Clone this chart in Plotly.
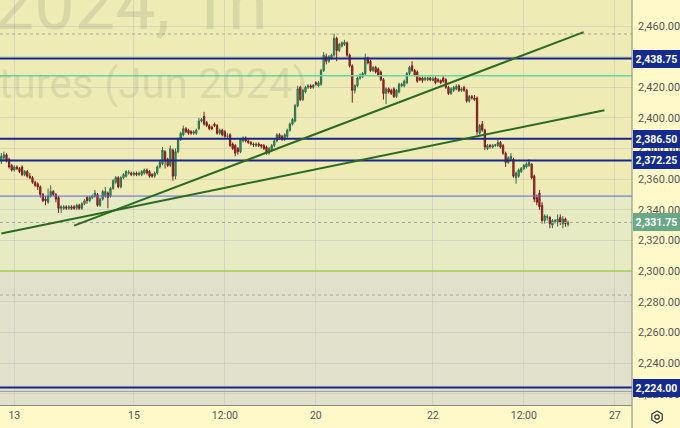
import math
import plotly.graph_objects as go

# ---------------- data (hourly bars, Gold Futures Jun 2024) ----------------
opens = [2372, 2374, 2376, 2373, 2369, 2366, 2368, 2367, 2368, 2363,
         2365, 2362, 2361, 2358, 2357, 2355, 2350, 2347, 2345, 2349,
         2352, 2350, 2348, 2341, 2341, 2342, 2341, 2342, 2342, 2341,
         2343, 2341, 2344, 2348, 2346, 2348, 2349, 2350, 2343, 2347,
         2349, 2351, 2349, 2354, 2358, 2361, 2355, 2361, 2362, 2364,
         2364, 2363, 2364, 2363, 2363, 2364, 2366, 2365, 2363, 2362,
         2364, 2368, 2370, 2378, 2373, 2369, 2379, 2362, 2378, 2386,
         2389, 2393, 2392, 2391, 2390, 2390, 2393, 2398, 2401, 2397,
         2395, 2394, 2396, 2395, 2390, 2392, 2391, 2388, 2389, 2383,
         2382, 2380, 2378, 2385, 2387, 2385, 2384, 2383, 2382, 2383,
         2382.5, 2382, 2381, 2377, 2379, 2382, 2385, 2389, 2388, 2386,
         2388, 2392, 2396, 2398, 2408, 2420, 2412, 2417, 2420, 2421,
         2420, 2423, 2421, 2422, 2431, 2440, 2437, 2439, 2441, 2452,
         2444, 2447, 2448, 2449, 2441, 2434, 2418, 2421, 2426, 2427,
         2429, 2439, 2437, 2431, 2433, 2432, 2430, 2425, 2416, 2419,
         2418, 2419, 2414, 2417, 2421, 2421, 2423, 2429, 2434, 2431,
         2430, 2426, 2426, 2425, 2425, 2426, 2424.5, 2426, 2425, 2424.5,
         2426, 2425, 2420, 2416, 2418, 2419, 2421, 2418, 2420, 2418,
         2411, 2414, 2413, 2413, 2390, 2396, 2392, 2380, 2382, 2381,
         2382, 2382, 2384, 2382, 2377, 2371, 2373, 2373, 2361, 2362,
         2365, 2367, 2368, 2369, 2370, 2362, 2348, 2351, 2343, 2333,
         2335, 2335, 2330, 2332.5, 2332, 2335, 2331, 2334, 2330.5]
highs = [2377, 2378, 2377, 2374, 2370, 2369, 2369, 2368, 2369, 2366,
         2366, 2364, 2362, 2359, 2358, 2356, 2351, 2349, 2354, 2356,
         2353, 2351, 2349, 2343, 2343, 2343, 2343, 2343, 2343, 2344,
         2344, 2345, 2347, 2349, 2349, 2350, 2353, 2351, 2348, 2353,
         2355, 2352, 2355, 2360, 2362, 2362, 2362, 2364, 2366, 2366,
         2365, 2365, 2365, 2365, 2366, 2367, 2367, 2366, 2364, 2365,
         2369, 2372, 2381, 2379, 2374, 2382, 2380, 2380, 2387, 2391,
         2395, 2394, 2393, 2392, 2392, 2393, 2400, 2400, 2404, 2398,
         2396, 2395, 2397, 2396, 2393, 2393, 2392, 2390, 2390, 2384,
         2383, 2381, 2387, 2388, 2388, 2386, 2385, 2384, 2384, 2384,
         2383, 2383, 2382, 2381, 2383, 2386, 2390, 2390, 2389, 2390,
         2393, 2397, 2400, 2409, 2421, 2421, 2419, 2421, 2422, 2422,
         2422, 2424, 2424, 2432, 2443, 2442, 2441, 2442, 2455, 2453,
         2449, 2450, 2451, 2450, 2442, 2435, 2422, 2427, 2429, 2430,
         2442, 2440, 2438, 2434, 2434, 2433, 2431, 2426, 2420, 2420,
         2419, 2420, 2419, 2423, 2423, 2425, 2430, 2434, 2437, 2432,
         2431, 2427, 2427, 2427, 2427, 2427, 2427, 2428, 2426, 2425,
         2428, 2426, 2421, 2420, 2421, 2422, 2422, 2420, 2421, 2419,
         2415, 2415, 2415, 2414, 2396, 2398, 2393, 2383, 2383, 2383,
         2383, 2386, 2385, 2383, 2378, 2375, 2377, 2374, 2365, 2367,
         2368, 2370, 2371, 2373, 2370, 2363, 2350, 2353, 2345, 2337,
         2337, 2336, 2334, 2334, 2337, 2337, 2336, 2335, 2333]
lows = [2370, 2372, 2371, 2367, 2365, 2365, 2366, 2364, 2362, 2362,
        2361, 2360, 2357, 2355, 2353, 2348, 2345, 2343, 2344, 2348,
        2349, 2345, 2338, 2338, 2340, 2340, 2340, 2340, 2340, 2340,
        2340, 2340, 2343, 2344, 2345, 2347, 2348, 2342, 2342, 2346,
        2348, 2341, 2348, 2353, 2357, 2354, 2354, 2360, 2361, 2363,
        2362, 2362, 2362, 2362, 2362, 2363, 2363, 2361, 2361, 2361,
        2363, 2367, 2369, 2367, 2368, 2368, 2359, 2360, 2377, 2385,
        2388, 2390, 2389, 2389, 2389, 2389, 2392, 2397, 2395, 2394,
        2392, 2392, 2394, 2389, 2389, 2388, 2387, 2387, 2381, 2379,
        2375, 2376, 2377, 2384, 2384, 2383, 2382, 2381, 2381, 2381,
        2380, 2379, 2376, 2376, 2378, 2381, 2384, 2386, 2385, 2385,
        2387, 2391, 2395, 2397, 2407, 2411, 2411, 2416, 2419, 2419,
        2419, 2421, 2420, 2421, 2430, 2435, 2436, 2438, 2440, 2437,
        2443, 2446, 2447, 2440, 2433, 2410, 2416, 2420, 2425, 2426,
        2428, 2435, 2430, 2430, 2429, 2427, 2424, 2412, 2409, 2416,
        2415, 2413, 2413, 2416, 2420, 2420, 2422, 2428, 2430, 2427,
        2423, 2424, 2423, 2424, 2424, 2424, 2424, 2422, 2423, 2422,
        2423, 2419, 2415, 2415, 2417, 2418, 2417, 2417, 2417, 2410,
        2410, 2412, 2411, 2389, 2389, 2391, 2379, 2379, 2380, 2380,
        2381, 2381, 2380, 2376, 2368, 2370, 2372, 2361, 2357, 2361,
        2364, 2366, 2367, 2368, 2360, 2345, 2343, 2340, 2331, 2331,
        2333, 2328, 2328, 2331, 2329, 2330, 2328, 2329, 2329]
closes = [2375, 2376, 2372, 2368, 2366, 2368, 2367, 2365, 2363, 2365,
          2362, 2361, 2358, 2356, 2355, 2350, 2346, 2346, 2349, 2352,
          2350, 2347, 2341, 2342, 2342, 2341, 2342, 2341, 2341, 2343,
          2341, 2344, 2346, 2346, 2348, 2349, 2351, 2343, 2347, 2352,
          2352, 2348, 2354, 2359, 2361, 2355, 2361, 2363, 2365, 2364.5,
          2363, 2364, 2363, 2364, 2365, 2366, 2364, 2362, 2362, 2364,
          2368, 2371, 2379, 2372, 2369, 2380, 2362, 2378, 2386, 2390,
          2393, 2391, 2390, 2390, 2391, 2392, 2398, 2399, 2396, 2395,
          2393, 2393, 2395, 2390, 2392, 2389, 2388, 2388.2, 2382, 2380,
          2377, 2378, 2386, 2387, 2385, 2384, 2383, 2382.5, 2383, 2382,
          2381.5, 2380, 2377, 2380, 2382, 2385, 2389, 2387, 2386, 2389,
          2392, 2396, 2399, 2408, 2419, 2412, 2418, 2420, 2421, 2420,
          2421.5, 2422, 2423, 2431, 2441, 2437, 2440, 2441, 2452, 2444,
          2448, 2449, 2449.5, 2441, 2434, 2418, 2421, 2426, 2428, 2429,
          2439, 2436, 2431, 2433, 2430, 2428, 2425, 2416, 2419, 2417,
          2416, 2414, 2418, 2422, 2422, 2424, 2429, 2433, 2431, 2428,
          2424, 2425, 2424.5, 2426, 2426, 2425, 2425.5, 2423, 2424, 2423,
          2424, 2420, 2416, 2419, 2420, 2420.5, 2418, 2419, 2418, 2411,
          2414, 2413, 2412, 2391, 2395, 2392, 2381, 2382, 2381.5, 2382,
          2382.5, 2384, 2381, 2377, 2371, 2374, 2375, 2362, 2364, 2366,
          2367, 2369, 2370, 2371, 2361, 2347, 2345, 2342, 2333, 2336,
          2335.5, 2331, 2333, 2333, 2334, 2332, 2334, 2331, 2331.75]
bars = list(range(len(closes)))

# time-axis labels (bar index of each label)
tick_bars = [5, 51, 86, 121, 166, 201, 236]
tick_text = ["13", "15", "12:00", "20", "22", "12:00", "27"]

# horizontal levels
level_prices = [2438.75, 2427.5, 2386.5, 2372.25, 2349.0, 2300.0, 2224.0, 2221.5]
level_colors = ["#17268c", "#5fd8a8", "#17268c", "#17268c", "#5a5ff0", "#a6cf5a", "#17268c", "#9a9a9a"]
level_widths = [2, 1.5, 2, 2, 1, 1.5, 2, 1]
dotted_prices = [2454.8, 2331.75, 2284.4]

# price-scale labels
badge_prices = [2438.75, 2386.5, 2372.25, 2224.0, 2331.75]
badge_colors = ["#152a8f", "#152a8f", "#152a8f", "#152a8f", "#6aa988"]

# background zones (upper, lower bound)
zone_top = [2349.0, 2300.0]
zone_bottom = [2300.0, 2100.0]
zone_colors = ["#e6ebc3", "#e1e0cb"]

# trend lines: (bar, price) -> (bar, price)
trend_x0 = [0, 28]
trend_y0 = [2324.5, 2329.7]
trend_x1 = [232, 224]
trend_y1 = [2405.0, 2456.0]

# ---------------- figure ----------------
fig = go.Figure()
fig.add_trace(go.Candlestick(
    x=bars, open=opens, high=highs, low=lows, close=closes,
    increasing=dict(line=dict(color="#2f6e49", width=1), fillcolor="#4f9b6c"),
    decreasing=dict(line=dict(color="#7d1d1d", width=1), fillcolor="#b42b2b"),
    whiskerwidth=0, showlegend=False, hoverinfo="skip"))

shapes = []
for t, b, c in zip(zone_top, zone_bottom, zone_colors):
    shapes.append(dict(type="rect", xref="paper", yref="y", x0=0, x1=1, y0=b, y1=t,
                       fillcolor=c, line=dict(width=0), layer="below"))
for p, c, w in zip(level_prices, level_colors, level_widths):
    shapes.append(dict(type="line", xref="paper", yref="y", x0=0, x1=1, y0=p, y1=p,
                       line=dict(color=c, width=w)))
for p in dotted_prices:
    shapes.append(dict(type="line", xref="paper", yref="y", x0=0, x1=1, y0=p, y1=p,
                       line=dict(color="#a9a9a0", width=1, dash="dot")))
for a, b, c, d in zip(trend_x0, trend_y0, trend_x1, trend_y1):
    shapes.append(dict(type="line", xref="x", yref="y", x0=a, y0=b, x1=c, y1=d,
                       line=dict(color="#2b6a22", width=2)))
# price-scale divider down to bottom
shapes.append(dict(type="line", xref="paper", yref="paper", x0=1, x1=1, y0=-0.1, y1=1,
                   line=dict(color="#8a8a80", width=1)))
# settings icon (hexagon + ring) in the corner
cx, cy = 1.0396, -0.0296
rx, ry = 6 / 632, 6 / 405
pts = []
for k in range(6):
    ang = math.pi / 6 + k * math.pi / 3
    pts.append((cx + rx * math.cos(ang), cy + ry * math.sin(ang)))
path = "M " + " L ".join(f"{x:.5f},{y:.5f}" for x, y in pts) + " Z"
shapes.append(dict(type="path", xref="paper", yref="paper", path=path,
                   line=dict(color="#333", width=1.2)))
shapes.append(dict(type="circle", xref="paper", yref="paper",
                   x0=cx - 2.2 / 632, x1=cx + 2.2 / 632, y0=cy - 2.2 / 405, y1=cy + 2.2 / 405,
                   line=dict(color="#333", width=1.2)))

annotations = []
for p, c in zip(badge_prices, badge_colors):
    annotations.append(dict(xref="paper", yref="y", x=1, y=p, xanchor="left", yanchor="middle",
                            xshift=1, text=f"<b>{p:,.2f}</b>", showarrow=False,
                            font=dict(family="Roboto, Arial", size=10.5, color="white"),
                            bgcolor=c, bordercolor=c, borderpad=1.5, width=42))
# watermark
annotations.append(dict(xref="paper", yref="paper", x=270 / 632, y=0.99, xanchor="right",
                        yanchor="middle", text="GCM2024, 1h", showarrow=False,
                        font=dict(family="Roboto", size=72, color="rgba(120,120,100,0.17)")))
annotations.append(dict(xref="paper", yref="paper", x=309 / 632, y=0.795, xanchor="right",
                        yanchor="middle", text="Gold Futures (Jun 2024)", showarrow=False,
                        font=dict(family="Roboto", size=42, color="rgba(120,120,100,0.17)")))

fig.update_layout(
    width=680, height=428,
    margin=dict(l=0, r=48, t=0, b=23),
    paper_bgcolor="#fff9c9",
    plot_bgcolor="#eeebb5",
    shapes=shapes, annotations=annotations,
    font=dict(family="Roboto, Arial", size=11, color="#555"),
    xaxis=dict(range=[-0.5, 242.6], rangeslider=dict(visible=False),
               tickvals=tick_bars, ticktext=tick_text, ticks="",
               showgrid=True, gridcolor="rgba(190,190,190,0.45)", gridwidth=1,
               showline=True, linecolor="#8a8a80", linewidth=1, mirror=False,
               zeroline=False, tickfont=dict(size=10.5, color="#555"), fixedrange=True),
    yaxis=dict(range=[2212.6, 2477.0], side="right", tick0=2200, dtick=20,
               tickformat=",.2f", ticks="", ticklabelstandoff=5,
               showgrid=True, gridcolor="rgba(190,190,190,0.45)", gridwidth=1,
               showline=False, zeroline=False,
               tickfont=dict(size=11, color="#555"), fixedrange=True),
)
fig.write_html("out.html", config={"displayModeBar": False},
               post_script="document.body.style.margin='0px';document.body.style.overflow='hidden';")
